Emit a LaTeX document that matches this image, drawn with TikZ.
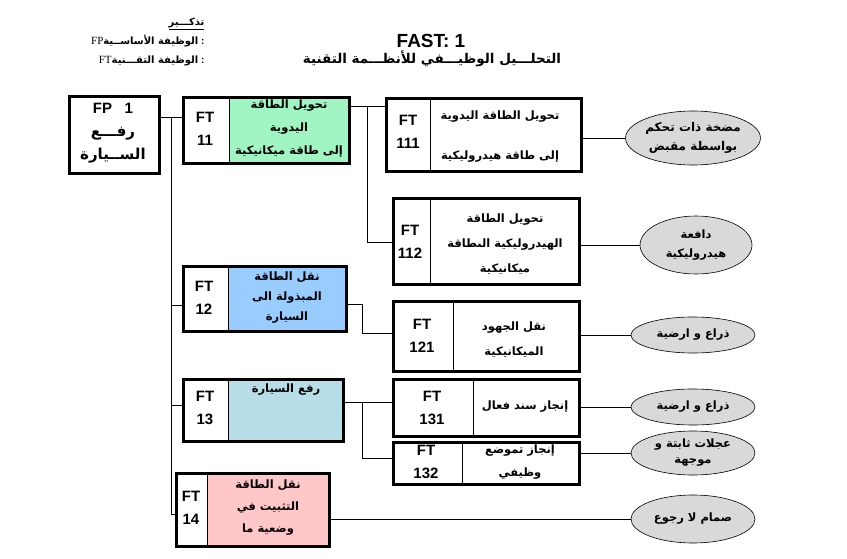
\documentclass[tikz,border=0pt]{standalone}
\usepackage{fontspec}
\setmainfont{Liberation Sans}
\newfontfamily\arfont[Script=Arabic]{DejaVu Sans}
\newfontfamily\serifl{Liberation Serif}
\TeXXeTstate=1
\newcommand\AR[1]{{\arfont\beginR #1\endR}}
\usetikzlibrary{shapes.geometric}
\definecolor{cgreen}{RGB}{160,245,195}
\definecolor{cblue}{RGB}{153,204,255}
\definecolor{cteal}{RGB}{183,222,232}
\definecolor{cpink}{RGB}{255,199,199}
\definecolor{cgray}{RGB}{217,217,217}
\tikzset{
  frame/.style={draw, line width=3.2pt, anchor=north west, inner sep=0pt},
  divline/.style={line width=0.9pt},
  conn/.style={line width=0.9pt},
  codetxt/.style={font=\bfseries\fontsize{15}{23}\selectfont, align=center},
  artxt/.style={font=\bfseries\fontsize{11.5}{23}\selectfont, align=center},
  oval/.style={ellipse, draw, fill=cgray, line width=0.6pt, inner sep=0pt,
    font=\bfseries\fontsize{11.5}{18}\selectfont, align=center},
}
\begin{document}
\begin{tikzpicture}[x=1pt,y=-1pt]
\useasboundingbox (0,0) rectangle (847,559);
% legend and title
\node[anchor=north east, align=right, font=\bfseries\fontsize{10}{19}\selectfont] (legend) at (208,14)
  {\underline{\AR{تذكـــير}}\\
   {\mdseries\serifl\fontsize{11}{19}\selectfont FP}\AR{الوظيفة الأساســية} :\\
   {\mdseries\serifl\fontsize{11}{19}\selectfont FT}\AR{الوظيفة التقـــنية} :};
\node[font=\bfseries\fontsize{19}{22}\selectfont] (title) at (431,41) {FAST: 1};
\node[font=\bfseries\fontsize{13.5}{15}\selectfont] (sub) at (432,59)
  {\AR{التحلـــيل الوظيـــفي للأنظـــمة التقنية}};
% FP 1
\node[frame, minimum width=90, minimum height=77] (fp) at (68,95) {};
\node[align=center, font=\bfseries\fontsize{15}{23}\selectfont] (fptxt) at (113,133)
  {FP\ \ \ 1\\\AR{رفـــع}\\\AR{الســيارة}};
% FT11
\fill[cgreen] (229,96) rectangle (348,162);
\draw[divline] (229,96) -- (229,162);
\node[frame, minimum width=166, minimum height=66] (ft11) at (182,96) {};
\node[codetxt] (c11) at (205,129) {FT\\11};
\node[artxt] (t11) at (289,129) {\AR{تحويل الطاقة}\\\AR{اليدوية}\\\AR{إلى طاقة ميكانيكية}};
% FT111
\draw[divline] (430,97) -- (430,170);
\node[frame, minimum width=195, minimum height=73] (ft111) at (385,97) {};
\node[codetxt] (c111) at (408,132) {FT\\111};
\node[artxt, font=\bfseries\fontsize{11.5}{40}\selectfont] (t111) at (500,137) {\AR{تحويل الطاقة  اليدوية}\\\AR{إلى طاقة هيدروليكية}};
% FT112
\draw[divline] (430,197) -- (430,283);
\node[frame, minimum width=186, minimum height=86] (ft112) at (392,197) {};
\node[codetxt] (c112) at (410,242) {FT\\112};
\node[artxt, font=\bfseries\fontsize{11.5}{25}\selectfont] (t112) at (505,244) {\AR{تحويل الطاقة}\\\AR{الهيدروليكية الىطاقة}\\\AR{ميكانيكية}};
% FT12
\fill[cblue] (228,265) rectangle (345,330);
\draw[divline] (228,265) -- (228,330);
\node[frame, minimum width=163, minimum height=65] (ft12) at (182,265) {};
\node[codetxt] (c12) at (204,298) {FT\\12};
\node[artxt, font=\bfseries\fontsize{11.5}{20}\selectfont] (t12) at (287,298) {\AR{نقل الطاقة}\\\AR{المبذولة الى}\\\AR{السيارة}};
% FT121
\draw[divline] (453,300) -- (453,370);
\node[frame, minimum width=186, minimum height=70] (ft121) at (392,300) {};
\node[codetxt] (c121) at (422,336) {FT\\121};
\node[artxt, font=\bfseries\fontsize{11.5}{25}\selectfont] (t121) at (514,340) {\AR{نقل  الجهود}\\\AR{الميكانيكية}};
% FT13
\fill[cteal] (228,378) rectangle (342,440);
\draw[divline] (228,378) -- (228,440);
\node[frame, minimum width=160, minimum height=62] (ft13) at (182,378) {};
\node[codetxt] (c13) at (205,408) {FT\\13};
\node[artxt] (t13) at (286,390) {\AR{رفع السيارة}};
% FT131
\draw[divline] (473,378) -- (473,435);
\node[frame, minimum width=186, minimum height=57] (ft131) at (392,378) {};
\node[codetxt] (c131) at (432,408) {FT\\131};
\node[artxt] (t131) at (525,407) {\AR{إنجاز سند فعال}};
% FT132
\draw[divline] (462,441) -- (462,483);
\node[frame, minimum width=186, minimum height=42] (ft132) at (392,441) {};
\node[codetxt] (c132) at (426,462) {FT\\132};
\node[artxt, font=\bfseries\fontsize{11.5}{23}\selectfont] (t132) at (520,462) {\AR{إنجاز تموضع}\\\AR{وظيفي}};
% FT14
\fill[cpink] (207,472) rectangle (328,545);
\draw[divline] (207,472) -- (207,545);
\node[frame, minimum width=153, minimum height=73] (ft14) at (175,472) {};
\node[codetxt] (c14) at (191,508) {FT\\14};
\node[artxt, font=\bfseries\fontsize{11.5}{22}\selectfont] (t14) at (268,508) {\AR{نقل الطاقة}\\\AR{التثبيت في}\\\AR{وضعية ما}};
% ellipses
\node[oval, minimum width=124, minimum height=54, font=\bfseries\fontsize{12}{19}\selectfont] (e1) at (693,138) {\AR{مضخة ذات تحكم}\\\AR{بواسطة مقبض}};
\node[oval, minimum width=112, minimum height=58, font=\bfseries\fontsize{11.5}{19}\selectfont] (e2) at (696,245) {\AR{دافعة}\\\AR{هيدروليكية}};
\node[oval, minimum width=124, minimum height=36] (e3) at (693,335) {\AR{ذراع و ارضية}};
\node[oval, minimum width=124, minimum height=36] (e4) at (693,407) {\AR{ذراع و ارضية}};
\node[oval, minimum width=124, minimum height=44, font=\bfseries\fontsize{11.5}{16}\selectfont] (e5) at (693,453) {\AR{عجلات ثابتة و}\\\AR{موجهة}};
\node[oval, minimum width=124, minimum height=48] (e6) at (693,519) {\AR{صمام لا رجوع}};
% connectors
\coordinate (j1) at (171,117);
\coordinate (j2) at (171,305);
\coordinate (j3) at (171,405);
\coordinate (j4) at (171,514);
\draw[conn] (fp.east |- j1) -- (ft11.west |- j1);
\draw[conn] (j1) -- (j4) -- (ft14.west |- j4);
\draw[conn] (j2) -- (ft12.west |- j2);
\draw[conn] (j3) -- (ft13.west |- j3);
\coordinate (k1) at (367,106);
\coordinate (k2) at (367,242);
\draw[conn] (ft11.east |- k1) -- (ft111.west |- k1);
\draw[conn] (k1) -- (k2) -- (ft112.west |- k2);
\coordinate (m1) at (362,304);
\coordinate (m2) at (362,333);
\draw[conn] (ft12.east |- m1) -- (m1) -- (m2) -- (ft121.west |- m2);
\coordinate (n1) at (362,402);
\coordinate (n2) at (362,458);
\draw[conn] (ft13.east |- n1) -- (ft131.west |- n1);
\draw[conn] (n1) -- (n2) -- (ft132.west |- n2);
\draw[conn] (ft111.east |- e1.west) -- (e1.west);
\draw[conn] (ft112.east |- e2.west) -- (e2.west);
\draw[conn] (ft121.east |- e3.west) -- (e3.west);
\draw[conn] (ft131.east |- e4.west) -- (e4.west);
\draw[conn] (ft132.east |- e5.west) -- (e5.west);
\draw[conn] (ft14.east |- e6.west) -- (e6.west);
\end{tikzpicture}
\end{document}
